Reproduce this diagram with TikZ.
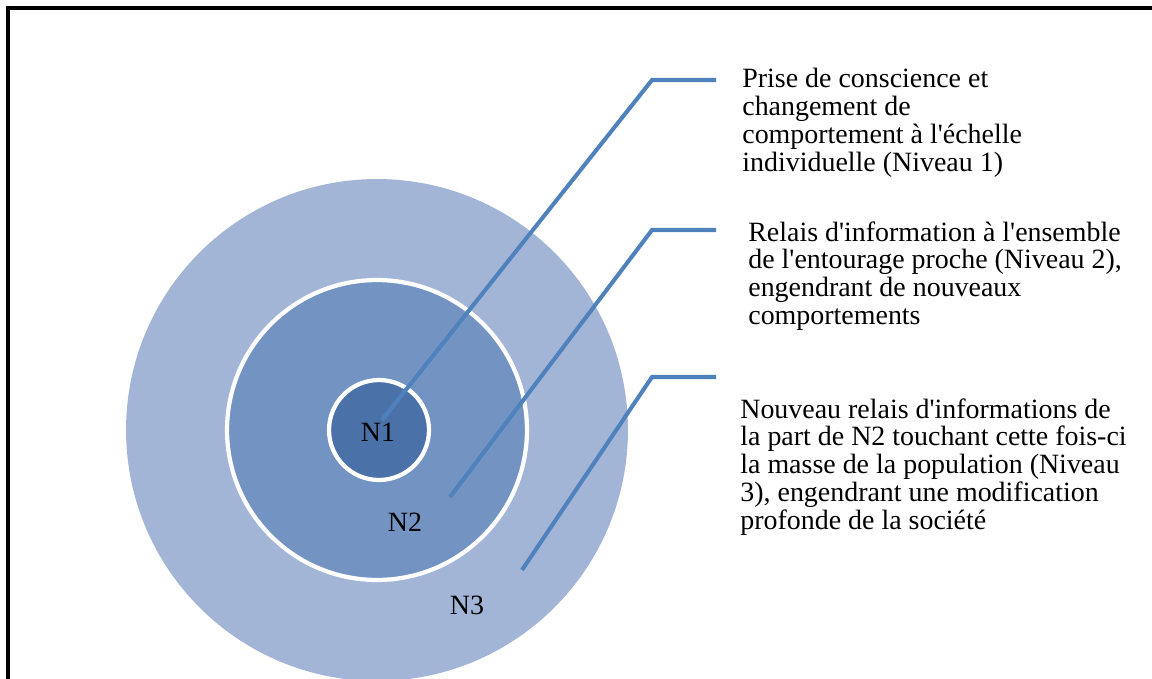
\documentclass[tikz,border=0pt]{standalone}
\usepackage{fontspec}
\setmainfont{Liberation Serif}
\usepackage{xcolor}
\usetikzlibrary{positioning}

\definecolor{ringA}{HTML}{A3B5D6}
\definecolor{ringB}{HTML}{7393C3}
\definecolor{ringC}{HTML}{4A72A9}
\definecolor{lead}{HTML}{4F81BD}
\newcommand{\ap}{\textquotesingle}

\begin{document}
\begin{tikzpicture}[x=0.02cm, y=-0.02cm,
        every node/.style={font=\fontsize{15.9pt}{15.8pt}\selectfont},
        level/.style={circle, fill=#1, draw=white, line width=2.4pt, inner sep=0pt},
        lbl/.style={inner sep=0pt},
        note/.style={anchor=north west, align=left, inner sep=0pt},
        leader/.style={draw=lead, line width=2.3pt}
    ]
%
    \useasboundingbox (0,0) rectangle (1152,679);
%
    % Frame
    \draw[line width=1.8pt] (8,679) -- (8,8) -- (1152,8);
%
    % Levels
    \node[level=ringA, draw=none, minimum size=10.04cm] (niv3) at (377,430) {};
    \node[level=ringB, minimum size=6cm] (niv2) at (377,430) {};
    \node[level=ringC, minimum size=2cm] (niv1) at (379,430) {};
%
    \node[lbl] (n1) at (378,432) {N1};
    \node[lbl] (n2) at (405,522) {N2};
    \node[lbl] (n3) at (467,605) {N3};
%
    % Descriptions
    \node[note] (txt1) at (742,68) {Prise de conscience et\\changement de\\comportement à l\ap échelle\\individuelle (Niveau 1)};
    \node[note] (txt2) at (748,221) {Relais d\ap information à l\ap ensemble\\de l\ap entourage proche (Niveau 2),\\engendrant de nouveaux\\comportements};
    \node[note] (txt3) at (740,398) {Nouveau relais d\ap informations de\\la part de N2 touchant cette fois-ci\\la masse de la population (Niveau\\3), engendrant une modification\\profonde de la société};
%
    % Leaders
    \coordinate (a1) at (382,420);
    \coordinate (k1) at (652,80);
    \coordinate (e1) at (716,80);
    \coordinate (a2) at (450,497);
    \coordinate (k2) at (652,230);
    \coordinate (e2) at (716,230);
    \coordinate (a3) at (522,570);
    \coordinate (k3) at (652,377);
    \coordinate (e3) at (716,377);
    \foreach \i in {1,2,3} {
        \draw[leader] (a\i) -- (k\i) -- (e\i);
    }
%
\end{tikzpicture}
\end{document}
